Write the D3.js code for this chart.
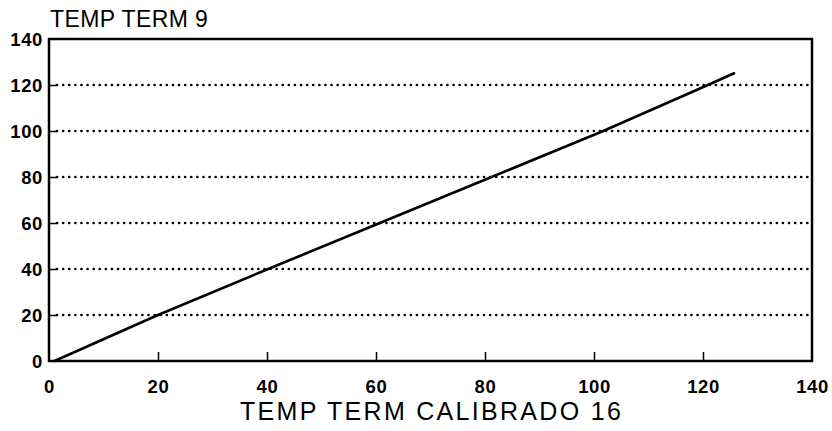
<!DOCTYPE html>
<html><head><meta charset="utf-8">
<script src="https://cdn.jsdelivr.net/npm/d3@7"></script>
<style>
body{margin:0;background:#fff;}
svg{display:block;}
text{font-family:"Liberation Sans",Arial,sans-serif;fill:#000;}
</style></head>
<body><svg id="c" width="832" height="431"></svg>
<script>
const xTicks=[0,20,40,60,80,100,120,140];
const yTicks=[0,20,40,60,80,100,120,140];
const seriesX=[1,20,40.2,60.7,81.2,101.7,120.9,125.7];
const seriesY=[0,20,40,60,80,100,120,125.1];
const titleY="TEMP TERM 9";
const titleX="TEMP TERM CALIBRADO 16";

const m={l:49,r:812,t:39,b:361};
const svg=d3.select("#c");
const x=d3.scaleLinear().domain([0,140]).range([m.l,m.r]);
const y=d3.scaleLinear().domain([0,140]).range([m.b,m.t]);

// gridlines
svg.append("g").selectAll("line").data(yTicks.filter(d=>d>0&&d<140)).join("line")
 .attr("x1",m.l+8).attr("x2",m.r).attr("y1",d=>y(d)).attr("y2",d=>y(d))
 .attr("stroke","#000").attr("stroke-width",2.6).attr("stroke-dasharray","0.1 6")
 .attr("stroke-linecap","round");

// axes
const xa=svg.append("g").attr("transform",`translate(0,${m.b})`)
 .call(d3.axisBottom(x).tickValues(xTicks).tickSizeInner(-9).tickSizeOuter(0).tickPadding(19));
const ya=svg.append("g").attr("transform",`translate(${m.l},0)`)
 .call(d3.axisLeft(y).tickValues(yTicks).tickSizeInner(-8).tickSizeOuter(0).tickPadding(6));
[xa,ya].forEach(a=>{
 a.select(".domain").remove();
 a.selectAll(".tick line").attr("stroke","#000").attr("stroke-width",1.5);
 a.selectAll("text").style("font-size","18.5px").style("font-weight","bold").style("letter-spacing","0.6px")
  .style("font-family","'Liberation Sans',Arial,sans-serif");
});
xa.selectAll(".tick").filter(d=>d===0||d===140).select("line").remove();
ya.selectAll(".tick").filter(d=>d===0||d===140).select("line").remove();
ya.selectAll("text").attr("dy","0.36em");

// frame
svg.append("rect").attr("x",m.l).attr("y",m.t).attr("width",m.r-m.l).attr("height",m.b-m.t)
 .attr("fill","none").attr("stroke","#000").attr("stroke-width",2.5);

// line
const pts=seriesX.map((v,i)=>[v,seriesY[i]]);
svg.append("path").datum(pts)
 .attr("d",d3.line().x(d=>x(d[0])).y(d=>y(d[1])))
 .attr("fill","none").attr("stroke","#000").attr("stroke-width",2.6).attr("stroke-linecap","round");

// titles
svg.append("text").attr("x",50).attr("y",27).style("font-size","23px").style("letter-spacing","0.4px").text(titleY);
svg.append("text").attr("x",240).attr("y",420).style("font-size","25px").style("letter-spacing","2.3px").text(titleX);
</script></body></html>
